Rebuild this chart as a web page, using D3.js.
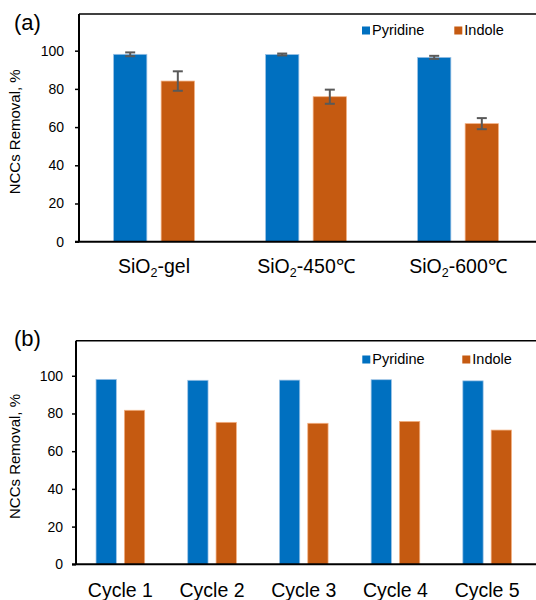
<!DOCTYPE html>
<html>
<head>
<meta charset="utf-8">
<script src="https://cdn.jsdelivr.net/npm/d3@7"></script>
<style>
  html, body { margin: 0; padding: 0; background: #fff; }
  svg { display: block; font-family: "Liberation Sans", Arial, sans-serif; }
</style>
</head>
<body>
<svg id="chart" width="536" height="600"></svg>
<script>
// ---------- data ----------
const series = ["Pyridine", "Indole"];
const seriesColors = ["#0070C0", "#C55A11"];
const seriesEdges = ["#9DC3E6", "#F4B183"];

const categoriesA = ["SiO2-gel", "SiO2-450℃", "SiO2-600℃"];
const pyridineA = [98.1, 98.0, 96.5];
const pyridineErrA = [1.0, 0.5, 0.8];
const indoleA = [84.1, 75.9, 61.8];
const indoleErrA = [5.1, 3.7, 2.9];

const categoriesB = ["Cycle 1", "Cycle 2", "Cycle 3", "Cycle 4", "Cycle 5"];
const pyridineB = [98.1, 97.6, 97.7, 97.9, 97.3];
const indoleB = [81.7, 75.3, 74.8, 75.8, 71.2];

const yTicks = [0, 20, 40, 60, 80, 100];
const yTitle = "NCCs Removal, %";

// ---------- drawing ----------
const svg = d3.select("#chart");

function drawPanel(cfg) {
  const g = svg.append("g");
  const x0 = d3.scaleBand().domain(cfg.categories).range([cfg.left, cfg.right]).padding(0);
  const x1 = d3.scaleBand().domain(series).range([0, x0.bandwidth()])
    .paddingInner(cfg.pInner).paddingOuter(cfg.pOuter);
  const y = d3.scaleLinear().domain([0, cfg.yMax]).range([cfg.bottom, cfg.top]);

  const rows = cfg.categories.map((c, i) => ({
    cat: c,
    vals: series.map((s, j) => ({
      s, j,
      v: cfg.values[j][i],
      e: cfg.errors ? cfg.errors[j][i] : null
    }))
  }));

  // bars
  const grp = g.selectAll("g.grp").data(rows).join("g")
    .attr("transform", d => `translate(${x0(d.cat)},0)`);
  grp.selectAll("rect").data(d => d.vals).join("rect")
    .attr("x", d => x1(d.s))
    .attr("y", d => y(d.v))
    .attr("width", x1.bandwidth())
    .attr("height", d => y(0) - y(d.v))
    .attr("fill", d => seriesColors[d.j])
    .attr("stroke", d => seriesEdges[d.j])
    .attr("stroke-width", 0.75);

  // error bars
  if (cfg.errors) {
    const eb = grp.selectAll("g.err").data(d => d.vals).join("g").attr("class", "err")
      .attr("stroke", "#595959").attr("stroke-width", 2);
    const cx = d => x1(d.s) + x1.bandwidth() / 2;
    eb.append("line")
      .attr("x1", cx).attr("x2", cx)
      .attr("y1", d => y(d.v + d.e)).attr("y2", d => y(d.v - d.e));
    eb.append("line")
      .attr("x1", d => cx(d) - 5).attr("x2", d => cx(d) + 5)
      .attr("y1", d => y(d.v + d.e)).attr("y2", d => y(d.v + d.e));
    eb.append("line")
      .attr("x1", d => cx(d) - 5).attr("x2", d => cx(d) + 5)
      .attr("y1", d => y(d.v - d.e)).attr("y2", d => y(d.v - d.e));
  }

  // frame top border
  g.append("line")
    .attr("x1", cfg.axisX).attr("x2", 540)
    .attr("y1", y(cfg.yMax)).attr("y2", y(cfg.yMax))
    .attr("stroke", "#000").attr("stroke-width", 1.5);

  // y axis
  const yAxis = d3.axisLeft(y).tickValues(yTicks).tickSize(4).tickPadding(cfg.tickPad);
  const ya = g.append("g").attr("transform", `translate(${cfg.axisX},0)`).call(yAxis);
  ya.select(".domain").attr("d", `M0,${y(cfg.yMax)}V${y(0)}`).attr("stroke", "#000").attr("stroke-width", 2);
  ya.selectAll(".tick line").attr("stroke", "#000").attr("stroke-width", 1.5);
  ya.selectAll(".tick text").attr("font-size", 14).attr("fill", "#000")
    .attr("font-family", "Liberation Sans, Arial, sans-serif");

  // x axis line
  g.append("line")
    .attr("x1", cfg.axisX - 4).attr("x2", 540)
    .attr("y1", y(0)).attr("y2", y(0))
    .attr("stroke", "#000").attr("stroke-width", 2);

  // category labels
  const lab = g.selectAll("text.cat").data(cfg.categories).join("text")
    .attr("class", "cat")
    .attr("x", d => x0(d) + x0.bandwidth() / 2)
    .attr("y", cfg.labelY)
    .attr("text-anchor", "middle")
    .attr("font-size", 19.5)
    .attr("fill", "#000");
  lab.each(function(d) {
    const t = d3.select(this);
    if (d.startsWith("SiO2")) {
      t.append("tspan").text("SiO");
      t.append("tspan").text("2").attr("font-size", 12.5).attr("dy", 4);
      t.append("tspan").text(d.slice(4)).attr("dy", -4);
    } else {
      t.text(d);
    }
  });

  // y title
  g.append("text")
    .attr("transform", `translate(${cfg.titleX},${(y(0) + y(cfg.yMax)) / 2 + 4}) rotate(-90)`)
    .attr("text-anchor", "middle")
    .attr("font-size", 15)
    .attr("fill", "#000")
    .text(yTitle);

  // panel tag
  g.append("text")
    .attr("x", 14).attr("y", cfg.tagY)
    .attr("font-size", 22).attr("fill", "#000")
    .text(cfg.tag);

  // legend
  const lg = g.selectAll("g.leg").data(series).join("g")
    .attr("transform", (d, i) => `translate(${cfg.legendX[i]},${cfg.legendY})`);
  lg.append("rect").attr("x", 0).attr("y", -8).attr("width", 8).attr("height", 8)
    .attr("fill", (d, i) => seriesColors[i]);
  lg.append("text").attr("x", 10).attr("y", 0.5)
    .attr("font-size", 14.5).attr("fill", "#000").text(d => d);
}

drawPanel({
  categories: categoriesA,
  values: [pyridineA, indoleA],
  errors: [pyridineErrA, indoleErrA],
  left: 78, right: 534, axisX: 79, tickPad: 11,
  pInner: 0.3, pOuter: 0.746,
  yMax: 119.2, top: 14, bottom: 241.7,
  labelY: 273, titleX: 20, tag: "(a)", tagY: 30,
  legendX: [362, 454.3], legendY: 34.5
});

drawPanel({
  categories: categoriesB,
  values: [pyridineB, indoleB],
  errors: null,
  left: 74.5, right: 533, axisX: 76, tickPad: 9,
  pInner: 0.283, pOuter: 0.76,
  yMax: 118.6, top: 340.7, bottom: 564.3,
  labelY: 597, titleX: 20, tag: "(b)", tagY: 346,
  legendX: [362.3, 462.3], legendY: 363.5
});
</script>
</body>
</html>
